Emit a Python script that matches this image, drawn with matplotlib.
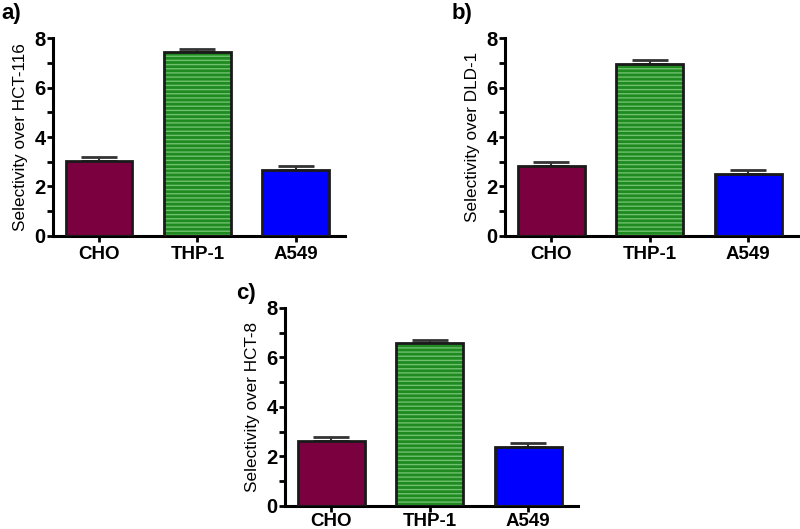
import matplotlib
matplotlib.use("Agg")
import matplotlib.pyplot as plt
import numpy as np

plt.rcParams['font.family'] = ['Liberation Sans', 'DejaVu Sans']
plt.rcParams['hatch.linewidth'] = 1.0

cells = ['CHO', 'THP-1', 'A549']
colors = ['#7A0040', '#1F8A1F', '#0000FF']

sel_hct116 = [3.03, 7.43, 2.67]
err_hct116 = [0.17, 0.14, 0.16]
sel_dld1 = [2.83, 6.95, 2.50]
err_dld1 = [0.16, 0.15, 0.17]
sel_hct8 = [2.62, 6.58, 2.38]
err_hct8 = [0.16, 0.11, 0.17]

# letter, ylabel, values, errors, axes rect, letter position (fig px), x label pad
panels = [
    ('a)', 'Selectivity over HCT-116', sel_hct116, err_hct116, [0.066, 0.554, 0.365, 0.374], (1, 13), 3),
    ('b)', 'Selectivity over DLD-1', sel_dld1, err_dld1, [0.631, 0.554, 0.366, 0.374], (452, 14), 3),
    ('c)', 'Selectivity over HCT-8', sel_hct8, err_hct8, [0.356, 0.044, 0.366, 0.374], (236, 293), 1.5),
]

W, H = 800, 529
fig = plt.figure(figsize=(W / 100, H / 100), dpi=100)
x = np.arange(len(cells))
dark = '#1a1a1a'

for letter, ylab, vals, errs, rect, lpos, xpad in panels:
    ax = fig.add_axes(rect)
    for i in range(3):
        if i == 1:
            ax.bar(x[i], vals[i], width=0.68, color=colors[i], edgecolor='#6fc06f',
                   linewidth=0, hatch='----', zorder=2)
        else:
            ax.bar(x[i], vals[i], width=0.68, color=colors[i], linewidth=0, zorder=2)
    ax.bar(x, vals, width=0.68, fill=False, edgecolor=dark, linewidth=2, zorder=3)
    ax.errorbar(x, vals, yerr=[np.zeros(3), errs], fmt='none', ecolor='#333333',
                elinewidth=1.5, capsize=13, capthick=2, zorder=1)
    ax.set_xlim(-0.47, 2.5)
    ax.set_ylim(0, 8)
    ax.set_yticks([0, 2, 4, 6, 8])
    ax.set_yticks([1, 3, 5, 7], minor=True)
    ax.set_xticks(x)
    ax.set_xticklabels(cells, fontsize=13.5, fontweight='bold')
    for lab in ax.get_yticklabels():
        lab.set_fontsize(14.5)
        lab.set_fontweight('bold')
    ax.spines['top'].set_visible(False)
    ax.spines['right'].set_visible(False)
    ax.spines['left'].set_linewidth(2.2)
    ax.spines['bottom'].set_linewidth(2.2)
    ax.tick_params(axis='both', which='major', width=2, length=4, color='black', pad=1)
    ax.tick_params(axis='x', which='major', pad=xpad)
    ax.tick_params(axis='y', which='minor', width=2, length=4, color='black')
    ax.set_ylabel(ylab, fontsize=12.3, labelpad=5)
    fig.text(lpos[0] / W, 1 - lpos[1] / H, letter, fontsize=16,
             fontweight='bold', ha='left', va='center')

fig.savefig('out.png', dpi=100)
